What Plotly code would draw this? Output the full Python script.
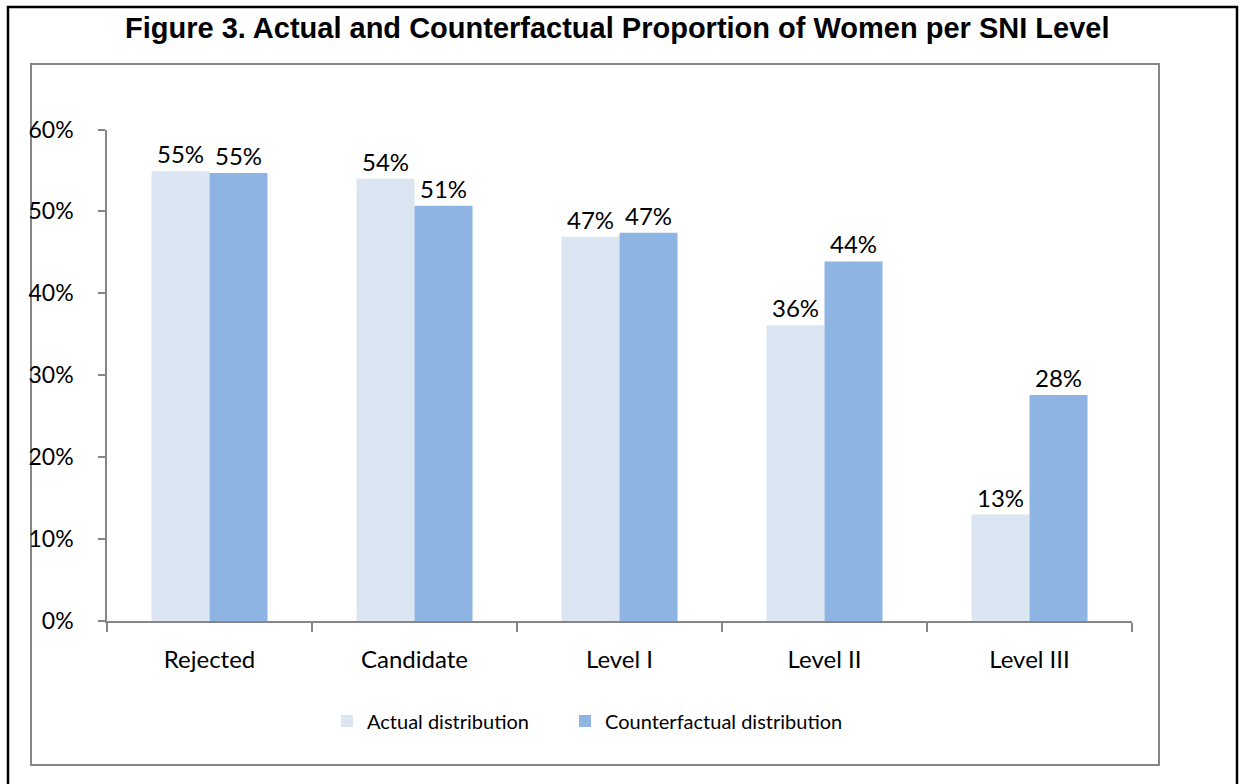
import plotly.graph_objects as go

categories = ["Rejected", "Candidate", "Level I", "Level II", "Level III"]
actual = [0.549, 0.540, 0.469, 0.361, 0.130]
counterfactual = [0.547, 0.507, 0.474, 0.439, 0.276]
series_names = ["Actual distribution", "Counterfactual distribution"]
y_ticks = [0, 0.1, 0.2, 0.3, 0.4, 0.5, 0.6]
y_ticklabels = ["0%", "10%", "20%", "30%", "40%", "50%", "60%"]
title = "Figure 3. Actual and Counterfactual Proportion of Women per SNI Level"

W, H = 1241, 784
FONT = "Lato, 'Noto Sans', sans-serif"
GREY = "#868686"

def px(x):
    return x / W

def py(y):
    return (H - y) / H

fig = go.Figure()
fig.add_trace(go.Bar(
    x=categories, y=actual, name=series_names[0], legend="legend",
    marker=dict(color="#DCE6F2", line=dict(width=0)),
    text=[f"{v*100:.0f}%" for v in actual], textposition="outside",
    textfont=dict(family=FONT, size=24, color="black"), cliponaxis=False,
))
fig.add_trace(go.Bar(
    x=categories, y=counterfactual, name=series_names[1], legend="legend2",
    marker=dict(color="#8EB4E3", line=dict(width=0)),
    text=[f"{v*100:.0f}%" for v in counterfactual], textposition="outside",
    textfont=dict(family=FONT, size=24, color="black"), cliponaxis=False,
))

legend_style = dict(orientation="h", xanchor="left", yanchor="middle",
                    font=dict(family=FONT, size=20, color="black"),
                    itemsizing="constant", itemwidth=30, bgcolor="rgba(0,0,0,0)")

fig.update_layout(
    width=W, height=H,
    margin=dict(l=0, r=0, t=0, b=0, autoexpand=False),
    paper_bgcolor="white", plot_bgcolor="white",
    barmode="group", bargap=0.434, bargroupgap=0,
    font=dict(family=FONT, size=20, color="black"),
    showlegend=True,
    legend=dict(x=px(327), y=py(721), **legend_style),
    legend2=dict(x=px(565), y=py(721), **legend_style),
    xaxis=dict(domain=[px(107), px(1132)], showline=True, linecolor=GREY, linewidth=1.5,
               ticks="outside", tickson="boundaries", ticklen=9, tickcolor=GREY, tickwidth=1.5,
               showgrid=False, tickfont=dict(family=FONT, size=24, color="black"),
               ticklabelstandoff=16),
    yaxis=dict(domain=[py(621), py(129.5)], range=[0, 0.6], showline=True, linecolor=GREY,
               linewidth=1.5, ticks="outside", ticklen=7, tickcolor=GREY, tickwidth=1.5,
               tickvals=y_ticks, ticktext=y_ticklabels, showgrid=False, zeroline=False,
               tickfont=dict(family=FONT, size=23, color="black"), ticklabelstandoff=20),
    annotations=[dict(text=f"<b>{title}</b>", x=px(617), y=py(28), xref="paper", yref="paper",
                      xanchor="center", yanchor="middle", showarrow=False,
                      font=dict(family="'Liberation Sans', Arial, sans-serif", size=29, color="black"))],
    shapes=[
        dict(type="rect", xref="paper", yref="paper", x0=px(31), x1=px(1159), y0=py(765), y1=py(64),
             line=dict(color=GREY, width=2), fillcolor="rgba(0,0,0,0)", layer="below"),
        dict(type="rect", xref="paper", yref="paper", x0=px(8), x1=px(1237), y0=-0.02, y1=py(7),
             line=dict(color="black", width=2.5), fillcolor="rgba(0,0,0,0)", layer="below"),
    ],
)

fig.write_html("out.html")
